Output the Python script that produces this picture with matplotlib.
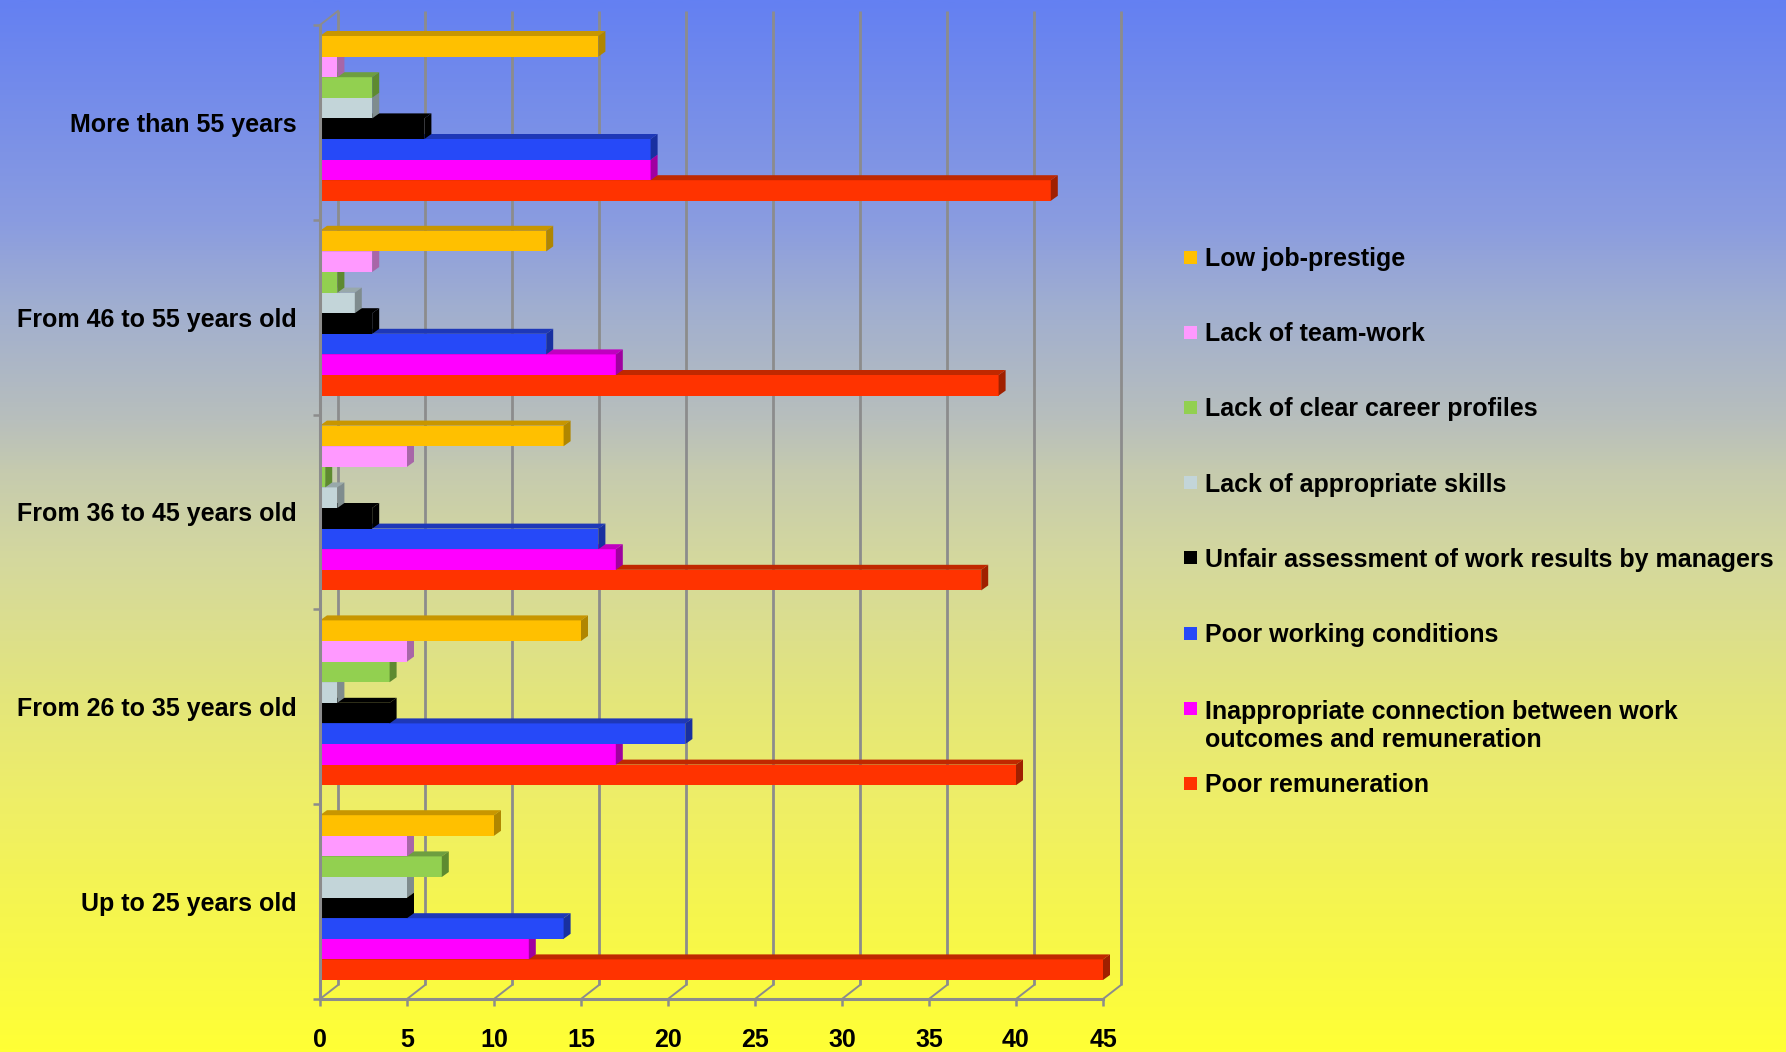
import numpy as np
import matplotlib
matplotlib.use("Agg")
import matplotlib.pyplot as plt
from matplotlib.colors import LinearSegmentedColormap
from matplotlib.patches import Polygon, Rectangle

plt.rcParams["font.family"] = ["Liberation Sans", "DejaVu Sans"]
plt.rcParams["font.weight"] = "bold"

# age groups, bottom to top
groups = ["Up to 25 years old", "From 26 to 35 years old", "From 36 to 45 years old",
          "From 46 to 55 years old", "More than 55 years"]

# series, in the order they are stacked inside a group (top to bottom)
series = ["Low job-prestige", "Lack of team-work", "Lack of clear career profiles",
          "Lack of appropriate skills", "Unfair assessment of work results by managers",
          "Poor working conditions",
          "Inappropriate connection between work\noutcomes and remuneration",
          "Poor remuneration"]

low_prestige = [10, 15, 14, 13, 16]
team_work = [5, 5, 5, 3, 1]
career_profiles = [7, 4, 0.3, 1, 3]
skills = [5, 1, 1, 2, 3]
unfair_assessment = [5, 4, 3, 3, 6]
working_conditions = [14, 21, 16, 13, 19]
pay_connection = [12, 17, 17, 17, 19]
remuneration = [45, 40, 38, 39, 42]

values = [low_prestige, team_work, career_profiles, skills, unfair_assessment,
          working_conditions, pay_connection, remuneration]

face = ["#FFC000", "#FF99FF", "#92D050", "#C3D5D9", "#000000", "#2649F8", "#FF00FF", "#FF3300"]
top = ["#C89600", "#C77FC7", "#6E9E40", "#98A8AA", "#000000", "#1E38B8", "#C000C0", "#C02800"]
side = ["#B08600", "#A866A8", "#5E8A30", "#7F8C8E", "#000000", "#1830A0", "#A000A0", "#A02000"]

GRID = "#8C8C8C"
W, H = 1786, 1052
X0, PX_X = 320, 17.4          # pixel of x=0 and pixels per unit
Y0, PX_G = 999, 194.8         # pixel row of the floor and pixels per group
XMAX, YMAX = 46.5, 5.1

fig = plt.figure(figsize=(W / 100, H / 100), dpi=100)

# blue-to-yellow backdrop
bg = fig.add_axes([0, 0, 1, 1], zorder=-10)
stops = [(0.0, "#6480F2"), (0.21, "#8A9CE0"), (0.29, "#A0AED0"), (0.40, "#B8BFBC"),
         (0.45, "#C6CBAE"), (0.53, "#D4D89E"), (0.67, "#E4E67A"), (0.76, "#EEEE68"),
         (0.86, "#F5F550"), (1.0, "#FFFF35")]
cmap = LinearSegmentedColormap.from_list("bg", stops)
bg.imshow(np.linspace(0, 1, 512)[:, None], cmap=cmap, aspect="auto", extent=[0, 1, 0, 1])
bg.axis("off")

ax = fig.add_axes([X0 / W, (H - Y0) / H, XMAX * PX_X / W, YMAX * PX_G / H])
ax.set_facecolor("none")
ax.set_xlim(0, XMAX)
ax.set_ylim(0, YMAX)

# back wall: gridlines shifted up and to the right of the front axis
bdx, bdy = 18 / PX_X, 14 / PX_G
ticks = np.arange(0, 46, 5)
for v in ticks:
    ax.plot([v + bdx, v + bdx], [bdy, 5 + bdy], color=GRID, lw=2.0, zorder=1, solid_capstyle="butt")
    ax.plot([v, v + bdx], [0, bdy], color=GRID, lw=1.4, zorder=1)
ax.plot([0, bdx], [5, 5 + bdy], color=GRID, lw=1.4, zorder=1)

# 3-D looking bars
ddx, ddy = 7 / PX_X, 5 / PX_G
bh = 20.6 / PX_G
off = 11 / PX_G
for g in range(len(groups)):
    for k in range(len(series) - 1, -1, -1):
        v = values[k][g]
        t = g + 1 - off - k * bh
        b = t - bh
        z = 3 + (len(series) - k) * 0.01 + g * 0.1
        ax.barh(b + bh / 2, v, height=bh, left=0, color=face[k], linewidth=0, zorder=z)
        ax.add_patch(Polygon([(0, t), (ddx, t + ddy), (v + ddx, t + ddy), (v, t)],
                             closed=True, facecolor=top[k], edgecolor="none", zorder=z))
        ax.add_patch(Polygon([(v, b), (v, t), (v + ddx, t + ddy), (v + ddx, b + ddy)],
                             closed=True, facecolor=side[k], edgecolor="none", zorder=z))

# front axes
for s in ["top", "right"]:
    ax.spines[s].set_visible(False)
ax.spines["left"].set_bounds(0, 5)
ax.spines["bottom"].set_bounds(0, 45)
for s in ["left", "bottom"]:
    ax.spines[s].set_color(GRID)
    ax.spines[s].set_linewidth(2.2)
    ax.spines[s].set_zorder(6)

ax.set_xticks(ticks)
ax.set_xticklabels([str(v) for v in ticks], fontsize=18, fontweight="bold")
ax.tick_params(axis="x", direction="out", length=5, width=1.8, color=GRID, pad=16)

ax.set_yticks(np.arange(0, 6))
ax.set_yticklabels([])
ax.set_yticks(np.arange(len(groups)) + 0.5, minor=True)
ax.set_yticklabels(groups, minor=True, fontsize=18, fontweight="bold")
ax.tick_params(axis="y", which="major", direction="out", length=5, width=1.8, color=GRID)
ax.tick_params(axis="y", which="minor", length=0, pad=17)

# legend, drawn as squares and text on the right
LX, TX = 1184, 1205
for k, name in enumerate(series):
    yc = 257 + 75.2 * k
    fig.patches.append(Rectangle((LX / W, 1 - (yc + 6.5) / H), 13 / W, 13 / H,
                                 transform=fig.transFigure, facecolor=face[k], edgecolor="none"))
    extra = name.count("\n") * 29.6
    fig.text(TX / W, 1 - (yc + 9 + extra) / H, name, fontsize=18, fontweight="bold",
             va="baseline", ha="left", linespacing=1.22)

fig.savefig("out.png", dpi=100)
